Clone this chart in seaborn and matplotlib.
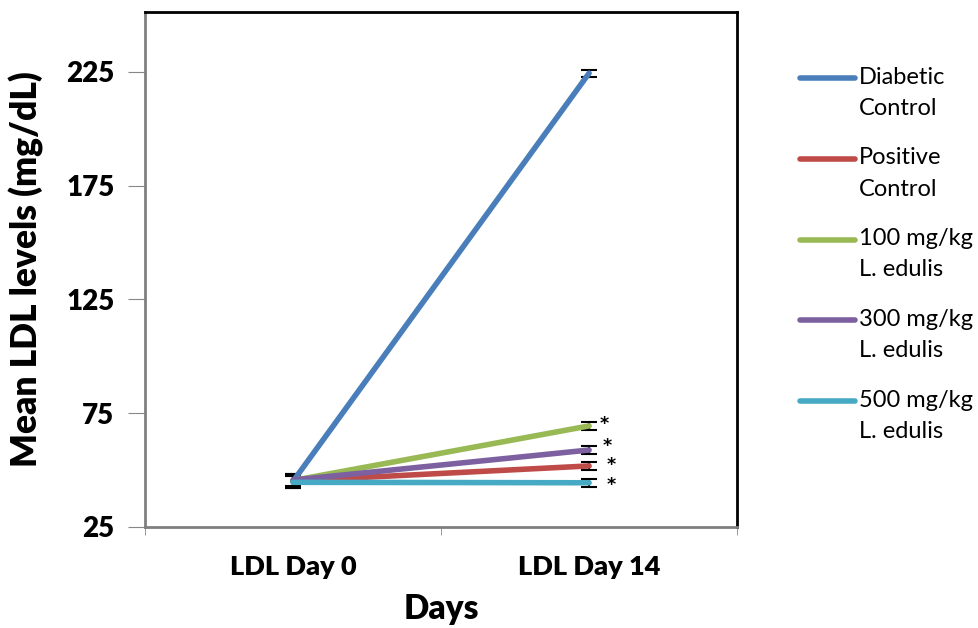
import numpy as np
import pandas as pd
import seaborn as sns
import matplotlib.pyplot as plt
from matplotlib.lines import Line2D

days = ["LDL Day 0", "LDL Day 14"]
groups = ["Diabetic\nControl", "Positive\nControl", "100 mg/kg\nL. edulis",
          "300 mg/kg\nL. edulis", "500 mg/kg\nL. edulis"]
day0 = [45.0, 45.2, 45.4, 45.6, 44.6]
day14 = [224.5, 51.8, 69.4, 58.8, 44.4]
err0 = [2.7, 2.7, 2.7, 2.7, 2.7]
err14 = [1.5, 1.8, 1.8, 1.8, 1.8]
stars = ["", "*", "*", "*", "*"]
star_dx = [0, 0.075, 0.05, 0.062, 0.075]
star_dy = [0, 0.4, 0.8, 1.8, -0.9]
colors = ["#4A7EBB", "#BE4B48", "#98B954", "#7D60A0", "#46AAC5"]

df = pd.DataFrame({
    "Days": days * len(groups),
    "LDL": [v for pair in zip(day0, day14) for v in pair],
    "Group": [g for g in groups for _ in days],
})

sns.set_style("white")
plt.rcParams['font.family'] = ['Lato', 'DejaVu Sans']
plt.rcParams['text.color'] = 'black'
plt.rcParams['xtick.color'] = 'black'
plt.rcParams['ytick.color'] = 'black'
plt.rcParams['axes.labelcolor'] = 'black'

fig = plt.figure(figsize=(9.79, 6.28), dpi=100)
ax = fig.add_axes([0.148, 0.161, 0.605, 0.82])

sns.lineplot(data=df, x="Days", y="LDL", hue="Group", palette=colors,
             linewidth=4, legend=False, ax=ax, sort=False)

for i in range(len(groups)):
    ax.errorbar([0, 1], [day0[i], day14[i]], yerr=[err0[i], err14[i]],
                fmt="none", ecolor="black", elinewidth=1.5, capsize=6, capthick=1.5, zorder=1)
    if stars[i]:
        ax.text(1 + star_dx[i], day14[i] + star_dy[i], stars[i], fontsize=12.5,
                fontweight="bold", family="DejaVu Sans", ha="center", va="center")

ax.set_xlim(-0.5, 1.5)
ax.set_ylim(25, 251.4)
ax.set_yticks([25, 75, 125, 175, 225])
ax.set_xticks([0, 1])
ax.set_xticklabels(days, fontsize=19.5, fontweight="heavy")
ax.set_xticks([-0.5, 0.5, 1.5], minor=True)
ax.tick_params(axis="x", which="major", length=0, pad=20)
ax.tick_params(axis="x", which="minor", length=6, color="#888888", direction="out")
ax.tick_params(axis="y", length=12, color="#888888", direction="out", labelsize=20, pad=10)
for lab in ax.get_yticklabels():
    lab.set_fontweight("heavy")
ax.yaxis.set_tick_params(left=True)
ax.xaxis.set_tick_params(which="minor", bottom=True)

for s in ["top", "right"]:
    ax.spines[s].set_color("black")
    ax.spines[s].set_linewidth(2)
for s in ["left", "bottom"]:
    ax.spines[s].set_color("#808080")
    ax.spines[s].set_linewidth(2)

ax.set_xlabel("Days", fontsize=24, fontweight="heavy", labelpad=10)
ax.set_ylabel("Mean LDL levels (mg/dL)", fontsize=25.5, fontweight="heavy", labelpad=16)

# legend drawn at figure level, line beside the first text line
for i, (g, c) in enumerate(zip(groups, colors)):
    y = 1 - (78 + i * 80.8) / 628
    fig.add_artist(Line2D([0.817, 0.873], [y, y], color=c, linewidth=4,
                          transform=fig.transFigure))
    fig.text(0.877, y + 0.018, g, fontsize=17, va="top", ha="left", linespacing=1.6)

fig.savefig("out.png", dpi=100)
